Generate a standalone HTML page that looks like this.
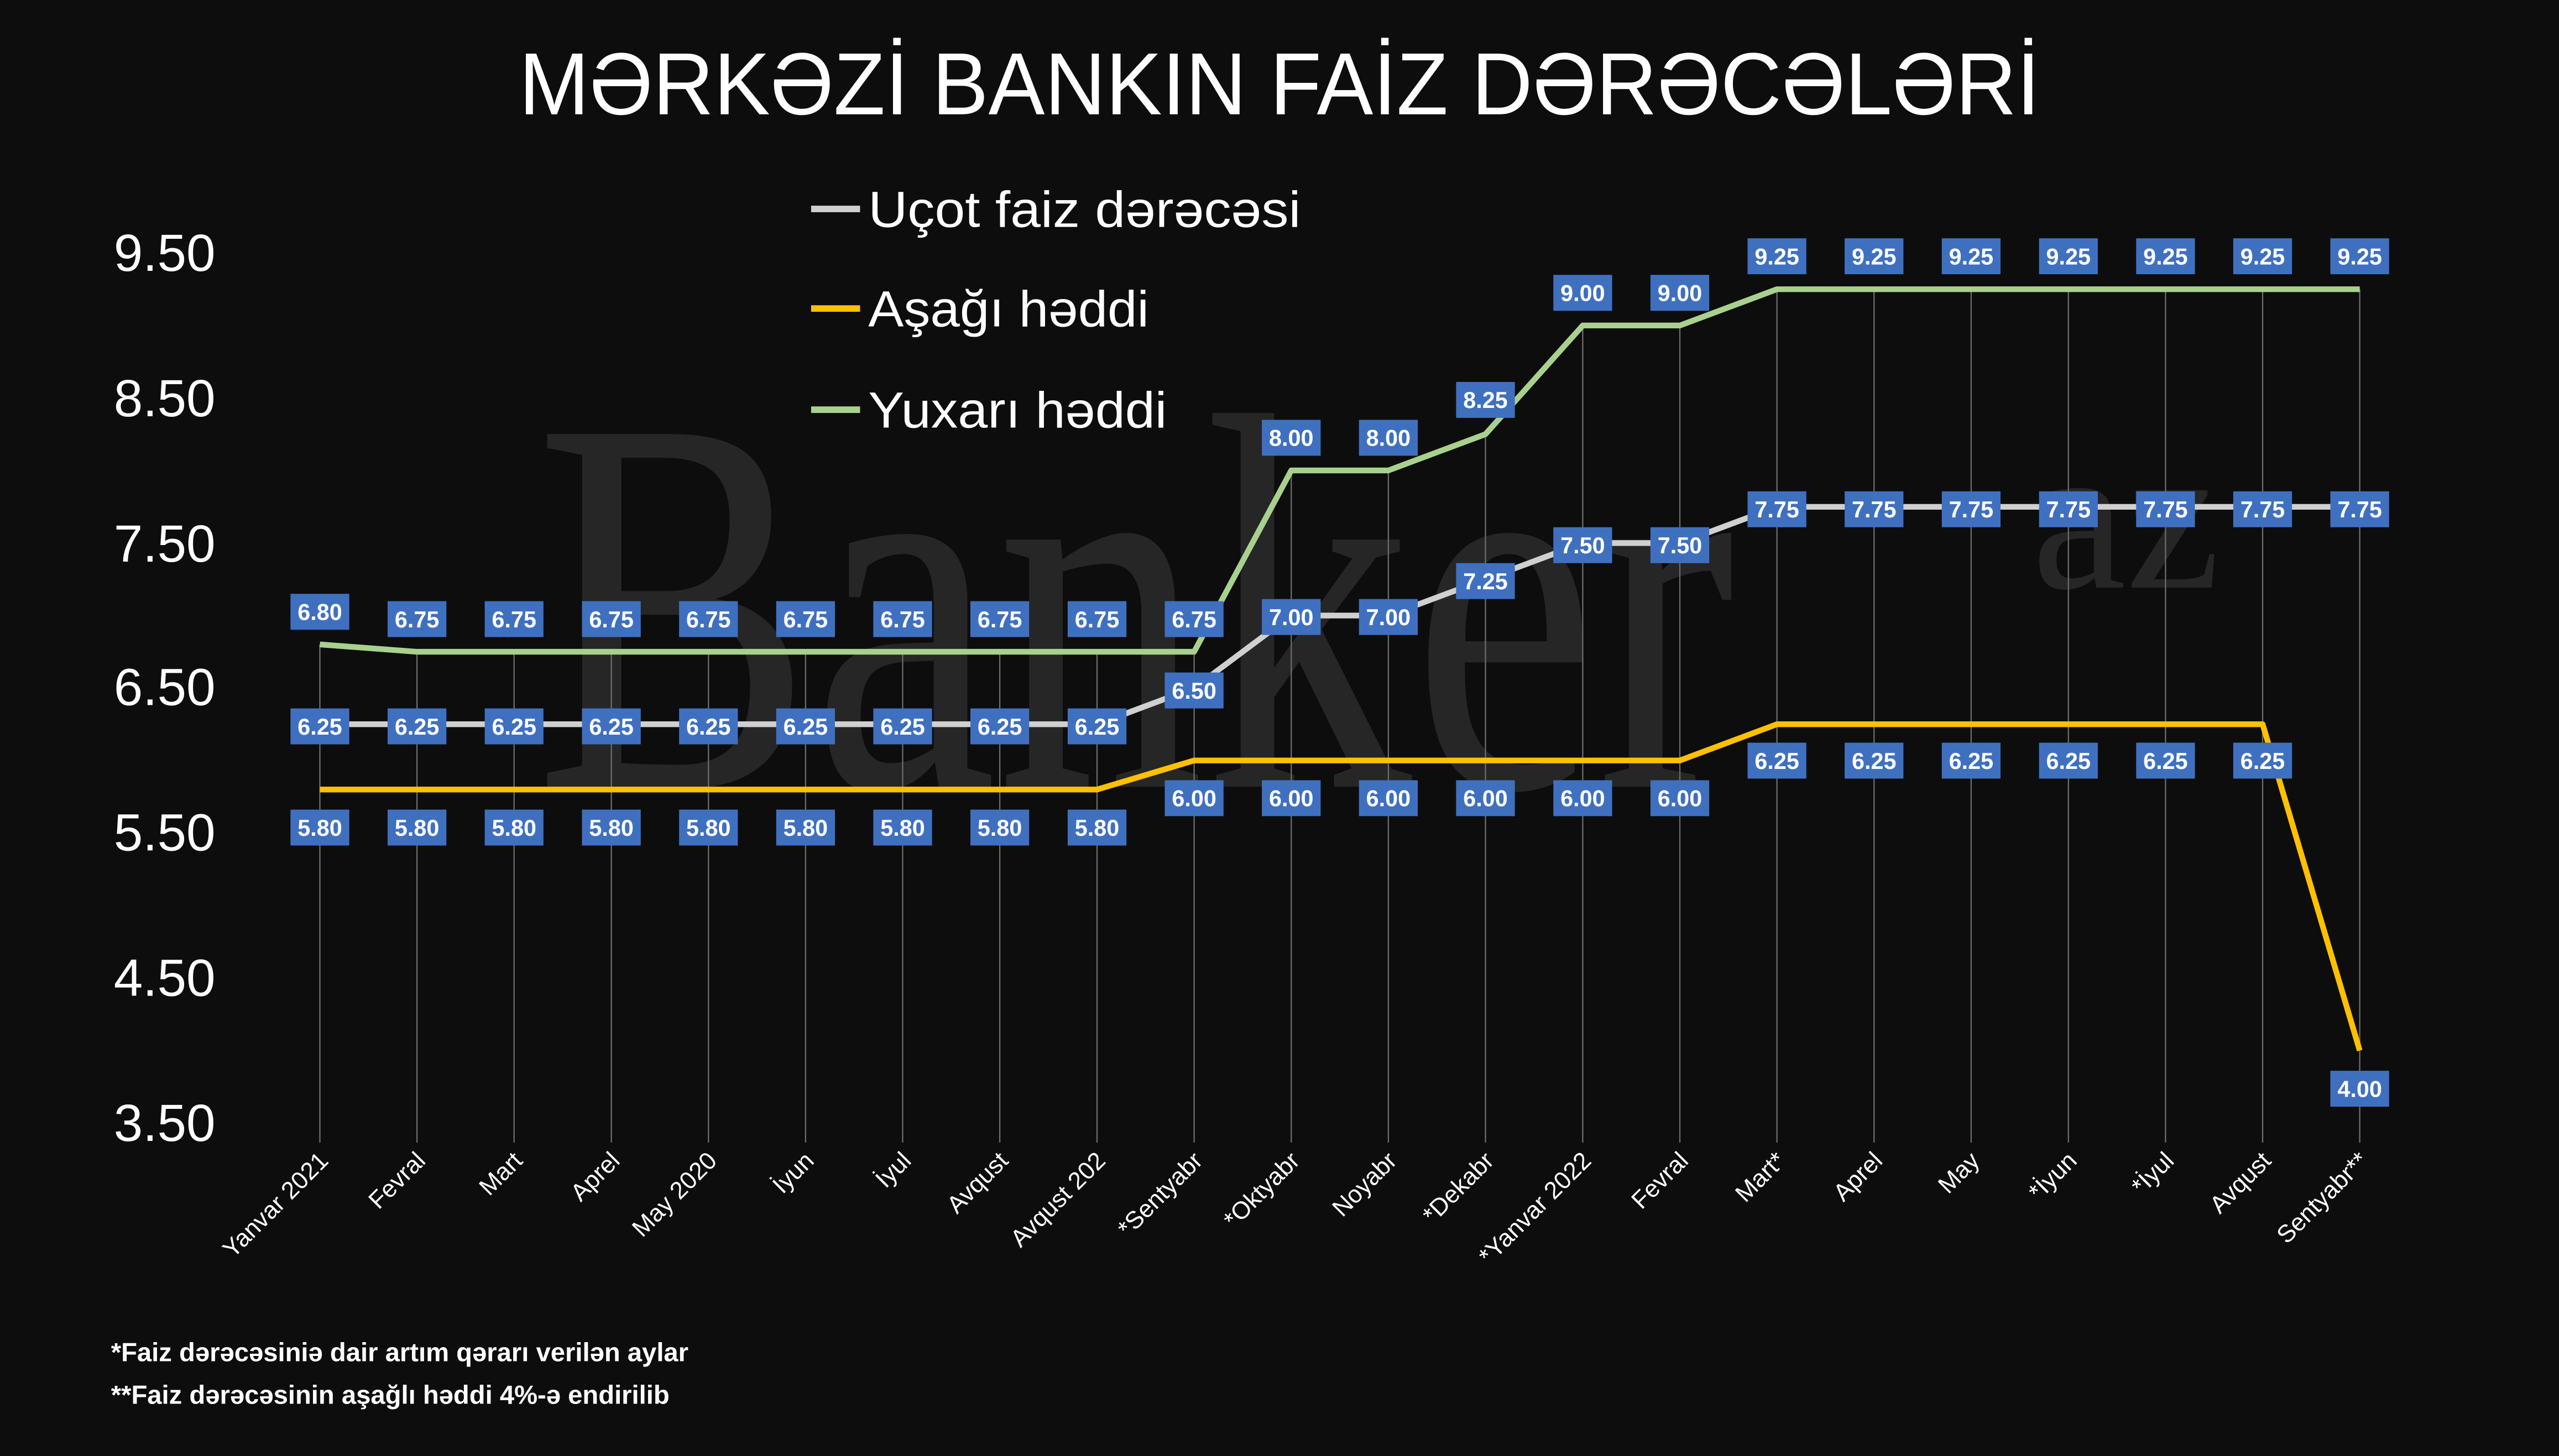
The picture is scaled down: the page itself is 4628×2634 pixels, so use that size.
<!DOCTYPE html>
<html><head><meta charset="utf-8"><style>
html,body{margin:0;padding:0;background:#0d0d0d;}
svg{display:block;}
.l rect{fill:#3f70c0;}
.l text{font-size:14px;font-weight:bold;fill:#fff;text-anchor:middle;}
.x text{font-size:15px;fill:#fff;text-anchor:end;}
</style></head><body>
<svg width="4628" height="2634" viewBox="0 0 1568 892" preserveAspectRatio="none" xmlns="http://www.w3.org/2000/svg" font-family="'Liberation Sans', 'DejaVu Sans', sans-serif">
<rect width="1568" height="892" fill="#0d0d0d"/>
<text x="328" y="482" font-family="'Liberation Serif', serif" font-size="330" fill="#262626" textLength="735" lengthAdjust="spacingAndGlyphs">Banker</text>
<text x="1245" y="360" font-family="'Liberation Serif', serif" font-size="130" fill="#262626">az</text>
<text x="784" y="70" text-anchor="middle" font-size="54" fill="#fff" textLength="932" lengthAdjust="spacingAndGlyphs">MƏRKƏZİ BANKIN FAİZ DƏRƏCƏLƏRİ</text>
<g font-size="32" fill="#fff" text-anchor="end">
<text x="132" y="166">9.50</text><text x="132" y="255">8.50</text><text x="132" y="344">7.50</text><text x="132" y="432">6.50</text><text x="132" y="521">5.50</text><text x="132" y="610">4.50</text><text x="132" y="699">3.50</text>
</g>
<g stroke-width="4" fill="none">
<line x1="497" y1="128" x2="527" y2="128" stroke="#d0d0d0"/>
<line x1="497" y1="189" x2="527" y2="189" stroke="#ffc000"/>
<line x1="497" y1="251" x2="527" y2="251" stroke="#a9d18e"/>
</g>
<g font-size="31" fill="#fff">
<text x="532" y="139" textLength="265" lengthAdjust="spacingAndGlyphs">Uçot faiz dərəcəsi</text>
<text x="532" y="200" textLength="172" lengthAdjust="spacingAndGlyphs">Aşağı həddi</text>
<text x="532" y="262" textLength="183" lengthAdjust="spacingAndGlyphs">Yuxarı həddi</text>
</g>
<g stroke="#6a6a6a" stroke-width="0.8">
<line x1="196" y1="394.8" x2="196" y2="700"/>
<line x1="255.5" y1="399.3" x2="255.5" y2="700"/>
<line x1="315" y1="399.3" x2="315" y2="700"/>
<line x1="374.6" y1="399.3" x2="374.6" y2="700"/>
<line x1="434.1" y1="399.3" x2="434.1" y2="700"/>
<line x1="493.6" y1="399.3" x2="493.6" y2="700"/>
<line x1="553.1" y1="399.3" x2="553.1" y2="700"/>
<line x1="612.6" y1="399.3" x2="612.6" y2="700"/>
<line x1="672.2" y1="399.3" x2="672.2" y2="700"/>
<line x1="731.7" y1="399.3" x2="731.7" y2="700"/>
<line x1="791.2" y1="288.2" x2="791.2" y2="700"/>
<line x1="850.7" y1="288.2" x2="850.7" y2="700"/>
<line x1="910.2" y1="266" x2="910.2" y2="700"/>
<line x1="969.8" y1="199.4" x2="969.8" y2="700"/>
<line x1="1029.3" y1="199.4" x2="1029.3" y2="700"/>
<line x1="1088.8" y1="177.2" x2="1088.8" y2="700"/>
<line x1="1148.3" y1="177.2" x2="1148.3" y2="700"/>
<line x1="1207.8" y1="177.2" x2="1207.8" y2="700"/>
<line x1="1267.4" y1="177.2" x2="1267.4" y2="700"/>
<line x1="1326.9" y1="177.2" x2="1326.9" y2="700"/>
<line x1="1386.4" y1="177.2" x2="1386.4" y2="700"/>
<line x1="1445.9" y1="177.2" x2="1445.9" y2="700"/>
</g>
<g fill="none" stroke-width="3.5" stroke-linejoin="round">
<polyline stroke="#d0d0d0" points="196,443.7 672.2,443.7 731.7,421.5 791.2,377.1 850.7,377.1 910.2,354.9 969.8,332.7 1029.3,332.7 1088.8,310.5 1445.9,310.5"/>
<polyline stroke="#ffc000" points="196,483.7 672.2,483.7 731.7,465.9 1029.3,465.9 1088.8,443.7 1386.4,443.7 1445.9,643.6"/>
<polyline stroke="#a9d18e" points="196,394.8 255.5,399.3 731.7,399.3 791.2,288.2 850.7,288.2 910.2,266 969.8,199.4 1029.3,199.4 1088.8,177.2 1445.9,177.2"/>
</g>
<g class="l">
<!-- upper -->
<g transform="translate(196,374.8)"><rect x="-18" y="-11" width="36" height="22"/><text y="5">6.80</text></g>
<g transform="translate(255.5,379.3)"><rect x="-18" y="-11" width="36" height="22"/><text y="5">6.75</text></g>
<g transform="translate(315,379.3)"><rect x="-18" y="-11" width="36" height="22"/><text y="5">6.75</text></g>
<g transform="translate(374.6,379.3)"><rect x="-18" y="-11" width="36" height="22"/><text y="5">6.75</text></g>
<g transform="translate(434.1,379.3)"><rect x="-18" y="-11" width="36" height="22"/><text y="5">6.75</text></g>
<g transform="translate(493.6,379.3)"><rect x="-18" y="-11" width="36" height="22"/><text y="5">6.75</text></g>
<g transform="translate(553.1,379.3)"><rect x="-18" y="-11" width="36" height="22"/><text y="5">6.75</text></g>
<g transform="translate(612.6,379.3)"><rect x="-18" y="-11" width="36" height="22"/><text y="5">6.75</text></g>
<g transform="translate(672.2,379.3)"><rect x="-18" y="-11" width="36" height="22"/><text y="5">6.75</text></g>
<g transform="translate(731.7,379.3)"><rect x="-18" y="-11" width="36" height="22"/><text y="5">6.75</text></g>
<g transform="translate(791.2,268.2)"><rect x="-18" y="-11" width="36" height="22"/><text y="5">8.00</text></g>
<g transform="translate(850.7,268.2)"><rect x="-18" y="-11" width="36" height="22"/><text y="5">8.00</text></g>
<g transform="translate(910.2,245)"><rect x="-18" y="-11" width="36" height="22"/><text y="5">8.25</text></g>
<g transform="translate(969.8,179.4)"><rect x="-18" y="-11" width="36" height="22"/><text y="5">9.00</text></g>
<g transform="translate(1029.3,179.4)"><rect x="-18" y="-11" width="36" height="22"/><text y="5">9.00</text></g>
<g transform="translate(1088.8,157)"><rect x="-18" y="-11" width="36" height="22"/><text y="5">9.25</text></g>
<g transform="translate(1148.3,157)"><rect x="-18" y="-11" width="36" height="22"/><text y="5">9.25</text></g>
<g transform="translate(1207.8,157)"><rect x="-18" y="-11" width="36" height="22"/><text y="5">9.25</text></g>
<g transform="translate(1267.4,157)"><rect x="-18" y="-11" width="36" height="22"/><text y="5">9.25</text></g>
<g transform="translate(1326.9,157)"><rect x="-18" y="-11" width="36" height="22"/><text y="5">9.25</text></g>
<g transform="translate(1386.4,157)"><rect x="-18" y="-11" width="36" height="22"/><text y="5">9.25</text></g>
<g transform="translate(1445.9,157)"><rect x="-18" y="-11" width="36" height="22"/><text y="5">9.25</text></g>
<!-- main -->
<g transform="translate(196,445)"><rect x="-18" y="-11" width="36" height="22"/><text y="5">6.25</text></g>
<g transform="translate(255.5,445)"><rect x="-18" y="-11" width="36" height="22"/><text y="5">6.25</text></g>
<g transform="translate(315,445)"><rect x="-18" y="-11" width="36" height="22"/><text y="5">6.25</text></g>
<g transform="translate(374.6,445)"><rect x="-18" y="-11" width="36" height="22"/><text y="5">6.25</text></g>
<g transform="translate(434.1,445)"><rect x="-18" y="-11" width="36" height="22"/><text y="5">6.25</text></g>
<g transform="translate(493.6,445)"><rect x="-18" y="-11" width="36" height="22"/><text y="5">6.25</text></g>
<g transform="translate(553.1,445)"><rect x="-18" y="-11" width="36" height="22"/><text y="5">6.25</text></g>
<g transform="translate(612.6,445)"><rect x="-18" y="-11" width="36" height="22"/><text y="5">6.25</text></g>
<g transform="translate(672.2,445)"><rect x="-18" y="-11" width="36" height="22"/><text y="5">6.25</text></g>
<g transform="translate(731.7,423)"><rect x="-18" y="-11" width="36" height="22"/><text y="5">6.50</text></g>
<g transform="translate(791.2,378)"><rect x="-18" y="-11" width="36" height="22"/><text y="5">7.00</text></g>
<g transform="translate(850.7,378)"><rect x="-18" y="-11" width="36" height="22"/><text y="5">7.00</text></g>
<g transform="translate(910.2,356)"><rect x="-18" y="-11" width="36" height="22"/><text y="5">7.25</text></g>
<g transform="translate(969.8,334)"><rect x="-18" y="-11" width="36" height="22"/><text y="5">7.50</text></g>
<g transform="translate(1029.3,334)"><rect x="-18" y="-11" width="36" height="22"/><text y="5">7.50</text></g>
<g transform="translate(1088.8,312)"><rect x="-18" y="-11" width="36" height="22"/><text y="5">7.75</text></g>
<g transform="translate(1148.3,312)"><rect x="-18" y="-11" width="36" height="22"/><text y="5">7.75</text></g>
<g transform="translate(1207.8,312)"><rect x="-18" y="-11" width="36" height="22"/><text y="5">7.75</text></g>
<g transform="translate(1267.4,312)"><rect x="-18" y="-11" width="36" height="22"/><text y="5">7.75</text></g>
<g transform="translate(1326.9,312)"><rect x="-18" y="-11" width="36" height="22"/><text y="5">7.75</text></g>
<g transform="translate(1386.4,312)"><rect x="-18" y="-11" width="36" height="22"/><text y="5">7.75</text></g>
<g transform="translate(1445.9,312)"><rect x="-18" y="-11" width="36" height="22"/><text y="5">7.75</text></g>
<!-- lower -->
<g transform="translate(196,507)"><rect x="-18" y="-11" width="36" height="22"/><text y="5">5.80</text></g>
<g transform="translate(255.5,507)"><rect x="-18" y="-11" width="36" height="22"/><text y="5">5.80</text></g>
<g transform="translate(315,507)"><rect x="-18" y="-11" width="36" height="22"/><text y="5">5.80</text></g>
<g transform="translate(374.6,507)"><rect x="-18" y="-11" width="36" height="22"/><text y="5">5.80</text></g>
<g transform="translate(434.1,507)"><rect x="-18" y="-11" width="36" height="22"/><text y="5">5.80</text></g>
<g transform="translate(493.6,507)"><rect x="-18" y="-11" width="36" height="22"/><text y="5">5.80</text></g>
<g transform="translate(553.1,507)"><rect x="-18" y="-11" width="36" height="22"/><text y="5">5.80</text></g>
<g transform="translate(612.6,507)"><rect x="-18" y="-11" width="36" height="22"/><text y="5">5.80</text></g>
<g transform="translate(672.2,507)"><rect x="-18" y="-11" width="36" height="22"/><text y="5">5.80</text></g>
<g transform="translate(731.7,489)"><rect x="-18" y="-11" width="36" height="22"/><text y="5">6.00</text></g>
<g transform="translate(791.2,489)"><rect x="-18" y="-11" width="36" height="22"/><text y="5">6.00</text></g>
<g transform="translate(850.7,489)"><rect x="-18" y="-11" width="36" height="22"/><text y="5">6.00</text></g>
<g transform="translate(910.2,489)"><rect x="-18" y="-11" width="36" height="22"/><text y="5">6.00</text></g>
<g transform="translate(969.8,489)"><rect x="-18" y="-11" width="36" height="22"/><text y="5">6.00</text></g>
<g transform="translate(1029.3,489)"><rect x="-18" y="-11" width="36" height="22"/><text y="5">6.00</text></g>
<g transform="translate(1088.8,466)"><rect x="-18" y="-11" width="36" height="22"/><text y="5">6.25</text></g>
<g transform="translate(1148.3,466)"><rect x="-18" y="-11" width="36" height="22"/><text y="5">6.25</text></g>
<g transform="translate(1207.8,466)"><rect x="-18" y="-11" width="36" height="22"/><text y="5">6.25</text></g>
<g transform="translate(1267.4,466)"><rect x="-18" y="-11" width="36" height="22"/><text y="5">6.25</text></g>
<g transform="translate(1326.9,466)"><rect x="-18" y="-11" width="36" height="22"/><text y="5">6.25</text></g>
<g transform="translate(1386.4,466)"><rect x="-18" y="-11" width="36" height="22"/><text y="5">6.25</text></g>
<g transform="translate(1445.9,667)"><rect x="-18" y="-11" width="36" height="22"/><text y="5">4.00</text></g>
</g>
<g class="x">
<text transform="translate(202,712) rotate(-45)">Yanvar 2021</text>
<text transform="translate(261.5,712) rotate(-45)">Fevral</text>
<text transform="translate(321,712) rotate(-45)">Mart</text>
<text transform="translate(380.6,712) rotate(-45)">Aprel</text>
<text transform="translate(440.1,712) rotate(-45)">May 2020</text>
<text transform="translate(499.6,712) rotate(-45)">İyun</text>
<text transform="translate(559.1,712) rotate(-45)">İyul</text>
<text transform="translate(618.6,712) rotate(-45)">Avqust</text>
<text transform="translate(678.2,712) rotate(-45)">Avqust 202</text>
<text transform="translate(737.7,712) rotate(-45)">*Sentyabr</text>
<text transform="translate(797.2,712) rotate(-45)">*Oktyabr</text>
<text transform="translate(856.7,712) rotate(-45)">Noyabr</text>
<text transform="translate(916.2,712) rotate(-45)">*Dekabr</text>
<text transform="translate(975.8,712) rotate(-45)">*Yanvar 2022</text>
<text transform="translate(1035.3,712) rotate(-45)">Fevral</text>
<text transform="translate(1094.8,712) rotate(-45)">Mart*</text>
<text transform="translate(1154.3,712) rotate(-45)">Aprel</text>
<text transform="translate(1213.8,712) rotate(-45)">May</text>
<text transform="translate(1273.4,712) rotate(-45)">*İyun</text>
<text transform="translate(1332.9,712) rotate(-45)">*İyul</text>
<text transform="translate(1392.4,712) rotate(-45)">Avqust</text>
<text transform="translate(1451.9,712) rotate(-45)">Sentyabr**</text>
</g>
<g font-size="16" font-weight="bold" fill="#fff">
<text x="68" y="834">*Faiz dərəcəsiniə dair artım qərarı verilən aylar</text>
<text x="68" y="860">**Faiz dərəcəsinin aşağlı həddi 4%-ə endirilib</text>
</g>
</svg>
</body></html>
